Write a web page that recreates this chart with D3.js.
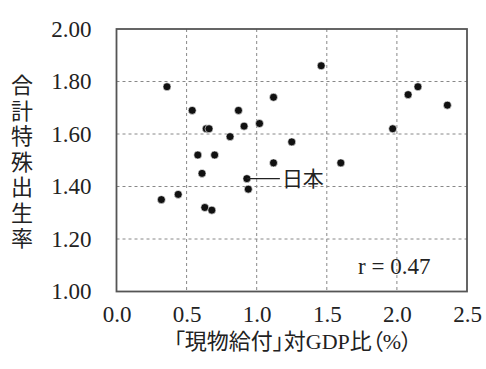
<!DOCTYPE html>
<html lang="ja">
<head>
<meta charset="utf-8">
<title>現物給付と合計特殊出生率</title>
<script src="https://cdn.jsdelivr.net/npm/d3@7"></script>
<style>
  body { margin: 0; background: #fff; }
  text { font-family: "Liberation Serif", "Noto Sans CJK JP", serif; fill: #222; }
  .grid line { stroke: #888; stroke-dasharray: 3,3; stroke-width: 1; }
  .xtitle { font-feature-settings: "palt"; }
</style>
</head>
<body>
<div id="chart"></div>
<script>
// 「現物給付」対GDP比（%）
var benefit = [0.36, 0.54, 0.87, 1.12, 0.64, 0.66, 0.91, 1.02, 0.81, 1.25,
               0.58, 0.70, 1.12, 1.46, 2.15, 2.08, 2.36, 1.97, 1.60, 0.61,
               0.93, 0.94, 0.44, 0.32, 0.63, 0.68];
// 合計特殊出生率
var fertility = [1.78, 1.69, 1.69, 1.74, 1.62, 1.62, 1.63, 1.64, 1.59, 1.57,
                 1.52, 1.52, 1.49, 1.86, 1.78, 1.75, 1.71, 1.62, 1.49, 1.45,
                 1.43, 1.39, 1.37, 1.35, 1.32, 1.31];
var japanIndex = 20;
var xTicks = [0, 0.5, 1.0, 1.5, 2.0, 2.5];
var yTicks = [1.0, 1.2, 1.4, 1.6, 1.8, 2.0];
var yTitle = "合計特殊出生率";
var xTitle = "「現物給付」対GDP比（%）";
var rLabel = "r = 0.47";

var w = 486, h = 369;
var pLeft = 116.5, pRight = 467, pTop = 29, pBottom = 291.5;

var svg = d3.select("#chart").append("svg")
            .attr("width", w).attr("height", h);

var x = d3.scaleLinear().domain([0, 2.5]).range([pLeft, pRight]);
var y = d3.scaleLinear().domain([1.0, 2.0]).range([pBottom, pTop]);

// grid
var grid = svg.append("g").attr("class", "grid");
grid.selectAll("line.v").data(xTicks.slice(1, -1)).enter().append("line")
    .attr("class", "v")
    .attr("x1", function(d){ return x(d); }).attr("x2", function(d){ return x(d); })
    .attr("y1", pTop).attr("y2", pBottom);
grid.selectAll("line.h").data(yTicks.slice(1, -1)).enter().append("line")
    .attr("class", "h")
    .attr("y1", function(d){ return y(d); }).attr("y2", function(d){ return y(d); })
    .attr("x1", pLeft).attr("x2", pRight);

// frame
svg.append("rect")
   .attr("x", pLeft).attr("y", pTop)
   .attr("width", pRight - pLeft).attr("height", pBottom - pTop)
   .attr("fill", "none").attr("stroke", "#555").attr("stroke-width", 1.8);

// axes (labels only)
var xAxis = d3.axisBottom(x).tickValues(xTicks).tickFormat(d3.format(".1f")).tickSize(0).tickPadding(14);
svg.append("g").attr("transform", "translate(0," + pBottom + ")").call(xAxis)
   .call(function(g){ g.select(".domain").remove(); })
   .selectAll("text").attr("font-size", 23).style("font-family", "Liberation Serif").attr("fill", "#222");

var yAxis = d3.axisLeft(y).tickValues(yTicks).tickFormat(d3.format(".2f")).tickSize(0).tickPadding(25);
svg.append("g").attr("transform", "translate(" + pLeft + ",0)").call(yAxis)
   .call(function(g){ g.select(".domain").remove(); })
   .selectAll("text").attr("font-size", 23).style("font-family", "Liberation Serif").attr("fill", "#222");

// points
svg.selectAll("circle.pt").data(benefit).enter().append("circle")
   .attr("class", "pt")
   .attr("cx", function(d){ return x(d); })
   .attr("cy", function(d, i){ return y(fertility[i]); })
   .attr("r", 4)
   .attr("fill", "#111")
   .attr("stroke", "#fff").attr("stroke-width", 0.6);

// Japan label
var jx = x(benefit[japanIndex]), jy = y(fertility[japanIndex]);
svg.append("line")
   .attr("x1", jx).attr("x2", jx + 33).attr("y1", jy).attr("y2", jy)
   .attr("stroke", "#222").attr("stroke-width", 1.2);
svg.append("text")
   .attr("x", jx + 35).attr("y", jy + 7.5)
   .attr("font-size", 21)
   .text("日本");

// r
svg.append("text")
   .attr("x", 358).attr("y", 274)
   .attr("font-size", 23)
   .text(rLabel);

// y title (vertical)
svg.append("g").selectAll("text").data(yTitle.split("")).enter().append("text")
   .attr("x", 22).attr("y", function(d, i){ return 93 + i * 25.5; })
   .attr("text-anchor", "middle")
   .attr("font-size", 22)
   .text(function(d){ return d; });

// x title
svg.append("text")
   .attr("class", "xtitle")
   .attr("x", 293).attr("y", 349)
   .attr("text-anchor", "middle")
   .attr("font-size", 22)
   .text(xTitle);
</script>
</body>
</html>
